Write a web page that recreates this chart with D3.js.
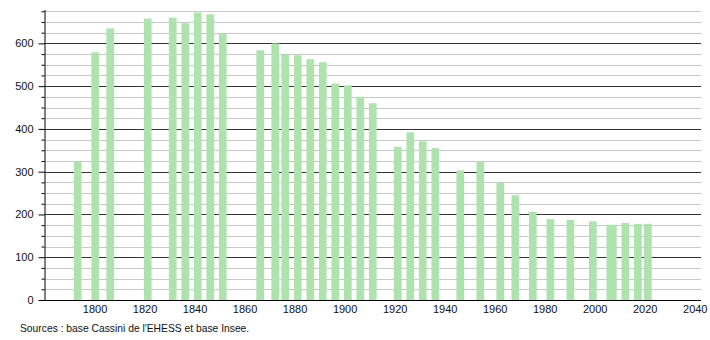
<!DOCTYPE html>
<html>
<head>
<meta charset="utf-8">
<script src="https://cdn.jsdelivr.net/npm/d3@7"></script>
<style>
  body { margin: 0; background: #fff; }
  text { font-family: "Liberation Sans", Arial, sans-serif; }
</style>
</head>
<body>
<div id="visual"></div>
<script>
// Population by census year
const years = [1793, 1800, 1806, 1821, 1831, 1836, 1841, 1846, 1851,
  1866, 1872, 1876, 1881, 1886, 1891, 1896, 1901, 1906, 1911,
  1921, 1926, 1931, 1936, 1946, 1954, 1962, 1968, 1975, 1982,
  1990, 1999, 2006, 2007, 2012, 2017, 2021];
const population = [323, 579, 635, 658, 660, 647, 672, 668, 622,
  584, 600, 575, 572, 563, 556, 506, 502, 475, 460,
  358, 392, 371, 355, 303, 323, 275, 245, 206, 189,
  187, 184, 176, 174, 180, 178, 178];
const yearTicks = [1800, 1820, 1840, 1860, 1880, 1900, 1920, 1940, 1960, 1980, 2000, 2020, 2040];
const popTicks = [0, 100, 200, 300, 400, 500, 600];
const sourceText = "Sources : base Cassini de l'EHESS et base Insee.";

const data = years.map((y, i) => ({ year: y, value: population[i] }));

const svg = d3.select("#visual")
  .append("svg")
  .attr("width", 710)
  .attr("height", 340);

// Scales
const x = d3.scaleLinear()
  .domain([1780, 2042.5])
  .range([44.5, 701]);

const y = d3.scaleLinear()
  .domain([0, 678])
  .range([300, 10]);

const left = 44.5, right = 701;

// Minor grid every 25
const minor = d3.range(25, 676, 25).filter(v => v % 100 !== 0);
svg.append("g")
  .selectAll("line")
  .data(minor)
  .enter()
  .append("line")
  .attr("x1", left)
  .attr("x2", right)
  .attr("y1", d => Math.round(y(d)) + 0.5)
  .attr("y2", d => Math.round(y(d)) + 0.5)
  .attr("stroke", "#c8c8c8")
  .attr("stroke-width", 1);

// Major grid every 100
svg.append("g")
  .selectAll("line")
  .data(popTicks.filter(v => v > 0))
  .enter()
  .append("line")
  .attr("x1", left)
  .attr("x2", right)
  .attr("y1", d => Math.round(y(d)) + 0.5)
  .attr("y2", d => Math.round(y(d)) + 0.5)
  .attr("stroke", "#333")
  .attr("stroke-width", 1);

// Bars
svg.append("g")
  .selectAll("rect")
  .data(data)
  .enter()
  .append("rect")
  .attr("x", d => x(d.year) - 3.2)
  .attr("width", 7.7)
  .attr("y", d => y(d.value))
  .attr("height", d => y(0) - y(d.value))
  .attr("fill", "#aee3ae");

// Y axis: minor ticks
svg.append("g")
  .attr("transform", "translate(" + left + ",0)")
  .call(d3.axisLeft(y).tickValues(minor).tickSize(3).tickFormat(""))
  .call(g => g.select(".domain").remove())
  .selectAll("line").attr("stroke", "#000");

// Y axis: major ticks and labels
svg.append("g")
  .attr("transform", "translate(" + left + ",0)")
  .call(d3.axisLeft(y).tickValues(popTicks).tickSize(6).tickPadding(5).tickSizeOuter(0))
  .call(g => g.select(".domain").attr("d", "M0.5," + y(0) + "V10").attr("stroke", "#000"))
  .call(g => g.selectAll("text").attr("font-size", 11).attr("fill", "#111")
    .attr("font-family", "'Liberation Sans', Arial, sans-serif"))
  .selectAll("line").attr("stroke", "#000");

// X axis
svg.append("g")
  .attr("transform", "translate(0," + y(0) + ")")
  .call(d3.axisBottom(x).tickValues(yearTicks).tickSize(0).tickPadding(5).tickFormat(d3.format("d")))
  .call(g => g.select(".domain").attr("d", "M39,0.5H" + right).attr("stroke", "#000"))
  .call(g => g.selectAll("text").attr("font-size", 11).attr("fill", "#111")
    .attr("font-family", "'Liberation Sans', Arial, sans-serif"));

// Source note
svg.append("text")
  .attr("x", 20)
  .attr("y", 332)
  .attr("font-size", 10.3)
  .attr("fill", "#111")
  .text(sourceText);
</script>
</body>
</html>
